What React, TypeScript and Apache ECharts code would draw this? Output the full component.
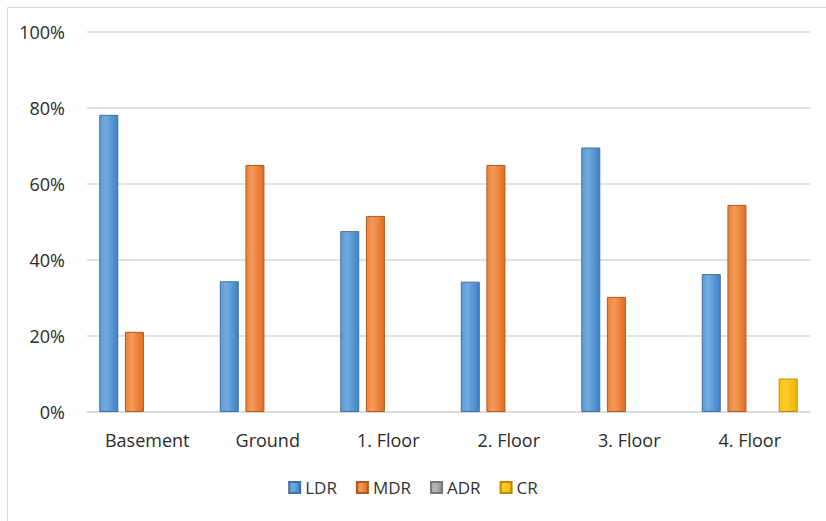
import React, { useEffect, useRef } from "react";
import * as echarts from "echarts";

const categories = ["Basement", "Ground", "1. Floor", "2. Floor", "3. Floor", "4. Floor"];
const ldr = [78.2, 34.4, 47.6, 34.3, 69.6, 36.3];
const mdr = [21.1, 65.0, 51.6, 65.0, 30.3, 54.5];
const adr = [0, 0, 0, 0, 0, 0];
const cr = [0, 0, 0, 0, 0, 8.8];
const yTicks = [0, 20, 40, 60, 80, 100];

const FONT = "'Open Sans', 'DejaVu Sans', sans-serif";

function grad(a: string, b: string, c: string) {
  return new echarts.graphic.LinearGradient(0, 0, 1, 0, [
    { offset: 0, color: a },
    { offset: 0.35, color: b },
    { offset: 1, color: c },
  ]);
}

function items(vals: number[]) {
  return vals.map((v) => (v === 0 ? { value: v, itemStyle: { borderWidth: 0, opacity: 0 } } : { value: v }));
}

export default function App() {
  const ref = useRef<HTMLDivElement>(null);
  useEffect(() => {
    if (!ref.current) return;
    const chart = echarts.init(ref.current, undefined, { renderer: "svg" });
    const mk = (name: string, data: number[], fill: any, border: string) => ({
      name,
      type: "bar",
      data: items(data),
      barWidth: 19,
      barGap: "35%",
      itemStyle: { color: fill, borderColor: border, borderWidth: 1 },
    });
    chart.setOption({
      animation: false,
      backgroundColor: "#ffffff",
      textStyle: { fontFamily: FONT },
      graphic: [
        {
          type: "rect",
          shape: { x: 7.5, y: 7.5, width: 900, height: 600 },
          style: { fill: "none", stroke: "#d9d9d9", lineWidth: 1 },
          silent: true,
        },
      ],
      grid: { left: 87, right: 16, top: 32, bottom: 109 },
      legend: {
        bottom: 20,
        left: "center",
        icon: "rect",
        itemWidth: 11,
        itemHeight: 11,
        itemGap: 19,
        textStyle: { fontFamily: FONT, fontSize: 17, color: "#333333" },
        data: ["LDR", "MDR", "ADR", "CR"],
      },
      xAxis: {
        type: "category",
        data: categories,
        axisLine: { lineStyle: { color: "#d9d9d9", width: 1.5 } },
        axisTick: { show: false },
        axisLabel: { fontFamily: FONT, fontSize: 18, color: "#2b2b2b", margin: 19 },
      },
      yAxis: {
        type: "value",
        min: yTicks[0],
        max: yTicks[yTicks.length - 1],
        interval: 20,
        axisLine: { show: false },
        axisTick: { show: false },
        splitLine: { lineStyle: { color: "#d9d9d9", width: 1.5 } },
        axisLabel: {
          fontFamily: FONT,
          fontSize: 18,
          color: "#2b2b2b",
          margin: 22,
          formatter: (v: number) => `${v}%`,
        },
      },
      series: [
        mk("LDR", ldr, grad("#5b9bd5", "#72abe2", "#3f80c2"), "#41719c"),
        mk("MDR", mdr, grad("#ee8236", "#f4995a", "#e26d1f"), "#ae5a21"),
        mk("ADR", adr, grad("#a5a5a5", "#b8b8b8", "#8f8f8f"), "#787878"),
        mk("CR", cr, grad("#ffc000", "#ffcd33", "#f0b000"), "#bc8c00"),
      ],
    });
    return () => chart.dispose();
  }, []);
  return (
    <div
      ref={ref}
      style={{ position: "absolute", left: 0, top: 0, width: 826, height: 521 }}
    />
  );
}
